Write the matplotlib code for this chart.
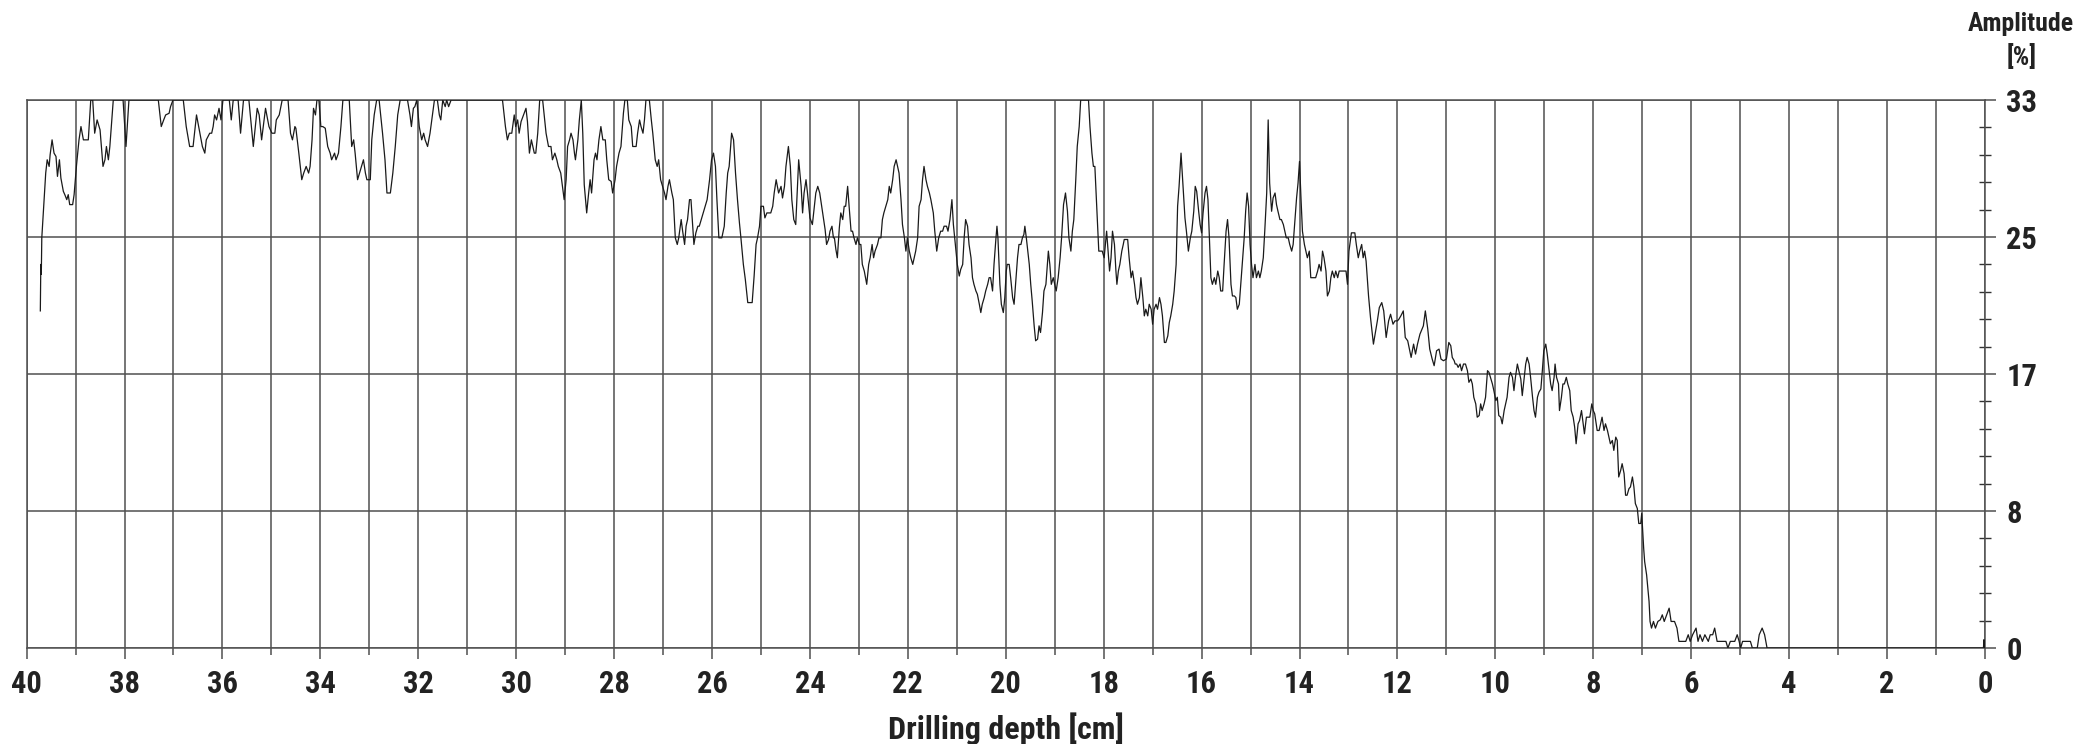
import numpy as np
import matplotlib
matplotlib.use("Agg")
import matplotlib.pyplot as plt
from matplotlib.ticker import FixedLocator, MultipleLocator

# drilling resistance trace: (depth [cm], amplitude [%])
trace_40_34 = [
    (39.72, 20.3), (39.71, 23.1), (39.70, 22.5), (39.69, 24.7), (39.61, 28.6), (39.58, 29.4),
    (39.54, 29.0), (39.52, 29.7), (39.48, 30.6), (39.44, 29.8), (39.40, 29.6), (39.37, 28.4),
    (39.33, 29.4), (39.30, 28.3), (39.25, 27.5), (39.22, 27.3), (39.18, 27.0), (39.15, 27.3),
    (39.12, 26.7), (39.06, 26.7), (39.03, 27.3), (38.98, 29.1), (38.93, 30.6), (38.89, 31.4),
    (38.84, 30.6), (38.74, 30.6), (38.69, 33.0), (38.65, 33.0), (38.61, 31.0), (38.56, 31.8),
    (38.50, 31.2), (38.44, 29.0), (38.40, 29.4), (38.37, 30.2), (38.33, 29.4), (38.30, 30.2),
    (38.23, 33.0), (38.03, 33.0), (37.97, 30.2), (37.91, 33.0), (37.31, 33.0), (37.25, 31.4),
    (37.20, 31.8), (37.16, 32.1), (37.09, 32.2), (37.06, 32.6), (37.01, 33.0), (36.80, 33.0),
    (36.74, 31.4), (36.67, 30.2), (36.60, 30.2), (36.53, 32.1), (36.46, 31.0), (36.41, 30.2),
    (36.36, 29.8), (36.33, 30.6), (36.26, 31.0), (36.22, 31.0), (36.19, 31.4), (36.16, 32.1),
    (36.12, 31.8), (36.07, 32.5), (36.03, 31.8), (35.99, 33.0), (35.86, 33.0), (35.82, 31.8),
    (35.78, 33.0), (35.68, 33.0), (35.63, 31.0), (35.57, 33.0), (35.46, 33.0), (35.37, 30.2),
    (35.29, 32.5), (35.25, 32.1), (35.20, 30.6), (35.12, 32.5), (35.05, 31.4), (34.99, 31.0),
    (34.93, 31.0), (34.90, 31.8), (34.84, 32.1), (34.78, 33.0), (34.66, 33.0), (34.61, 31.0),
    (34.57, 30.6), (34.52, 31.4),
]

trace_34_29 = [
    (34.50, 31.3), (34.44, 29.8), (34.38, 28.2), (34.34, 28.6), (34.29, 29.0), (34.24, 28.6),
    (34.21, 29.0), (34.17, 30.6), (34.14, 32.5), (34.10, 32.1), (34.07, 33.0), (34.03, 33.0),
    (33.99, 31.4), (33.95, 31.4), (33.90, 31.3), (33.85, 30.2), (33.80, 29.8), (33.77, 29.4),
    (33.71, 29.8), (33.68, 29.4), (33.63, 29.8), (33.58, 31.4), (33.54, 33.0), (33.41, 33.0),
    (33.36, 30.2), (33.32, 30.6), (33.29, 29.8), (33.24, 28.2), (33.19, 28.7), (33.16, 29.0),
    (33.12, 29.4), (33.08, 28.6), (33.05, 28.2), (32.98, 28.2), (32.95, 30.6), (32.90, 32.1),
    (32.85, 33.0), (32.80, 33.0), (32.73, 31.0), (32.68, 29.4), (32.64, 27.4), (32.57, 27.4),
    (32.52, 28.6), (32.47, 30.2), (32.42, 32.1), (32.37, 33.0), (32.22, 33.0), (32.17, 32.1),
    (32.14, 31.4), (32.10, 32.5), (32.07, 32.6), (32.03, 33.0), (31.98, 31.4), (31.93, 30.6),
    (31.89, 31.0), (31.86, 30.6), (31.81, 30.2), (31.76, 31.0), (31.71, 32.1), (31.67, 33.0),
    (31.61, 33.0), (31.57, 32.1), (31.54, 31.8), (31.50, 33.0), (31.45, 32.6), (31.42, 33.0),
    (31.38, 32.6), (31.33, 33.0), (30.28, 33.0), (30.22, 31.4), (30.18, 30.6), (30.14, 31.0),
    (30.09, 31.0), (30.04, 32.1), (30.01, 31.4), (29.97, 31.8), (29.94, 31.0), (29.90, 31.7),
    (29.85, 32.1), (29.80, 32.5), (29.77, 31.7), (29.73, 29.8), (29.69, 30.6), (29.63, 29.8),
    (29.60, 29.8), (29.56, 31.0), (29.52, 33.0), (29.46, 33.0), (29.39, 31.0), (29.34, 30.2),
    (29.29, 30.2), (29.26, 29.4), (29.21, 29.8), (29.17, 29.4), (29.14, 29.0), (29.09, 28.6),
    (29.06, 27.9), (29.02, 27.0),
]

trace_29_23 = [
    (28.98, 28.2), (28.95, 30.2), (28.91, 30.6), (28.88, 31.0), (28.84, 30.6), (28.81, 29.8),
    (28.79, 29.4), (28.74, 30.6), (28.71, 31.8), (28.67, 33.0), (28.64, 31.0), (28.61, 27.9),
    (28.56, 26.2), (28.52, 27.4), (28.49, 28.2), (28.46, 27.4), (28.41, 29.4), (28.38, 29.8),
    (28.35, 29.4), (28.31, 30.6), (28.27, 31.4), (28.23, 30.6), (28.18, 30.6), (28.15, 29.4),
    (28.11, 28.2), (28.06, 28.1), (28.03, 27.4), (27.98, 28.2), (27.95, 29.0), (27.90, 29.8),
    (27.86, 30.2), (27.81, 32.2), (27.78, 33.0), (27.73, 33.0), (27.70, 31.8), (27.65, 31.4),
    (27.62, 30.2), (27.55, 30.2), (27.52, 31.0), (27.48, 31.8), (27.45, 31.4), (27.41, 31.0),
    (27.38, 31.8), (27.35, 33.0), (27.28, 33.0), (27.24, 31.8), (27.21, 31.0), (27.16, 29.4),
    (27.12, 29.0), (27.09, 29.4), (27.05, 28.2), (27.01, 27.8), (26.97, 27.4), (26.94, 27.0),
    (26.90, 27.8), (26.87, 28.2), (26.82, 27.4), (26.79, 27.0), (26.75, 24.7), (26.71, 24.3),
    (26.68, 24.7), (26.63, 25.8), (26.60, 25.1), (26.56, 24.3), (26.53, 25.4), (26.50, 25.8),
    (26.46, 27.0), (26.43, 27.0), (26.37, 24.3), (26.33, 25.0), (26.29, 25.4), (26.26, 25.4),
    (26.22, 25.8), (26.18, 26.2), (26.14, 26.6), (26.10, 27.0), (26.05, 28.2), (26.01, 29.4),
    (25.97, 29.8), (25.93, 29.0), (25.90, 27.0), (25.86, 24.7), (25.80, 24.7), (25.75, 25.4),
    (25.71, 27.4), (25.68, 28.6), (25.65, 29.0), (25.60, 31.0), (25.56, 30.6), (25.52, 28.6),
    (25.48, 27.0), (25.44, 25.6), (25.41, 24.7), (25.36, 23.1), (25.32, 22.2), (25.27, 20.8),
    (25.18, 20.8), (25.14, 22.4), (25.10, 24.3), (25.07, 24.7), (25.03, 25.4), (25.00, 26.6),
    (24.95, 26.6), (24.92, 25.9), (24.88, 26.2), (24.80, 26.2), (24.76, 26.6), (24.73, 27.4),
    (24.69, 28.2), (24.64, 27.4), (24.59, 27.8), (24.56, 27.1), (24.52, 27.8), (24.49, 29.0),
    (24.44, 30.2), (24.40, 29.0), (24.37, 27.0), (24.33, 25.8), (24.29, 25.5), (24.25, 28.2),
    (24.23, 29.4), (24.18, 27.8), (24.15, 26.2), (24.12, 27.4), (24.08, 28.2), (24.05, 27.4),
    (24.00, 25.9), (23.95, 25.5), (23.91, 26.6), (23.88, 27.4), (23.84, 27.8), (23.80, 27.4),
    (23.74, 26.2), (23.69, 25.2), (23.66, 24.3), (23.62, 24.6), (23.59, 25.1), (23.55, 25.4),
    (23.52, 24.7),
]

trace_23_18 = [
    (23.50, 24.7), (23.47, 24.0), (23.44, 23.5), (23.40, 25.3), (23.37, 26.2), (23.33, 25.8),
    (23.30, 26.6), (23.27, 26.6), (23.23, 27.8), (23.20, 26.6), (23.16, 25.1), (23.13, 25.1),
    (23.10, 24.7), (23.06, 24.3), (23.03, 24.7), (22.99, 24.3), (22.96, 24.3), (22.93, 23.1),
    (22.89, 22.7), (22.84, 21.9), (22.80, 23.1), (22.77, 23.5), (22.73, 24.3), (22.70, 23.5),
    (22.67, 23.9), (22.62, 24.3), (22.59, 24.7), (22.55, 24.7), (22.52, 25.8), (22.49, 26.2),
    (22.45, 26.6), (22.41, 27.0), (22.38, 27.8), (22.35, 27.4), (22.31, 28.2), (22.28, 29.0),
    (22.24, 29.4), (22.21, 29.0), (22.18, 28.6), (22.14, 27.0), (22.11, 25.5), (22.07, 24.7),
    (22.04, 23.9), (22.01, 24.7), (21.97, 23.9), (21.94, 23.5), (21.90, 23.1), (21.87, 23.5),
    (21.84, 23.9), (21.80, 24.7), (21.77, 26.6), (21.73, 27.0), (21.70, 28.2), (21.67, 29.0),
    (21.63, 28.2), (21.60, 27.8), (21.56, 27.4), (21.53, 27.0), (21.48, 26.2), (21.45, 25.1),
    (21.41, 23.9), (21.37, 24.7), (21.33, 25.1), (21.29, 25.1), (21.26, 25.4), (21.21, 25.4),
    (21.18, 25.1), (21.14, 25.8), (21.10, 27.0), (21.07, 25.5), (21.03, 24.3), (20.99, 23.1),
    (20.95, 22.4), (20.92, 22.8), (20.88, 23.1), (20.85, 24.7), (20.82, 25.8), (20.78, 25.4),
    (20.75, 24.3), (20.71, 23.5), (20.68, 22.3), (20.65, 21.9), (20.61, 21.5), (20.58, 21.3),
    (20.54, 20.7), (20.51, 20.2), (20.48, 20.7), (20.44, 21.1), (20.41, 21.5), (20.37, 21.9),
    (20.34, 22.3), (20.31, 22.3), (20.27, 21.5), (20.24, 23.1), (20.20, 24.7), (20.18, 25.4),
    (20.16, 24.7), (20.12, 21.9), (20.09, 20.7), (20.05, 20.2), (20.02, 21.1), (19.99, 22.7),
    (19.97, 23.1), (19.93, 23.1), (19.90, 22.3), (19.86, 21.1), (19.83, 20.7), (19.80, 21.9),
    (19.76, 23.5), (19.73, 24.3), (19.69, 24.3), (19.66, 24.7), (19.63, 24.9), (19.61, 25.4),
    (19.58, 24.7), (19.52, 23.1), (19.49, 21.9), (19.46, 20.9), (19.42, 19.4), (19.39, 18.5),
    (19.35, 18.6), (19.32, 19.4), (19.29, 19.0), (19.25, 20.2), (19.22, 21.5), (19.18, 21.9),
    (19.15, 23.1), (19.13, 23.9), (19.10, 23.1), (19.07, 21.9), (19.03, 22.3), (19.00, 21.9),
    (18.97, 21.5), (18.93, 22.3), (18.89, 23.5), (18.86, 24.7), (18.82, 26.7), (18.78, 27.4),
    (18.74, 26.3), (18.71, 24.7), (18.67, 23.9), (18.64, 25.1), (18.61, 25.8), (18.57, 28.2),
    (18.54, 30.2), (18.50, 31.4), (18.47, 33.0), (18.31, 33.0), (18.28, 31.4), (18.24, 29.8),
    (18.21, 29.0), (18.18, 29.0), (18.13, 25.8), (18.10, 23.9), (18.03, 23.9), (17.99, 23.5),
]

trace_18_12 = [
    (17.94, 25.1), (17.90, 23.5), (17.88, 22.7), (17.85, 23.5), (17.82, 25.1), (17.78, 24.3),
    (17.75, 22.7), (17.73, 21.9), (17.70, 22.7), (17.67, 23.1), (17.63, 23.9), (17.60, 24.3),
    (17.58, 24.6), (17.51, 24.6), (17.48, 23.5), (17.44, 22.3), (17.41, 22.7), (17.37, 21.9),
    (17.34, 21.1), (17.31, 20.7), (17.27, 21.1), (17.24, 22.3), (17.20, 21.1), (17.17, 20.0),
    (17.14, 20.4), (17.10, 20.0), (17.07, 20.7), (17.03, 20.4), (17.00, 19.5), (16.97, 20.4),
    (16.93, 20.7), (16.90, 20.4), (16.86, 21.1), (16.83, 20.7), (16.80, 20.0), (16.76, 18.4),
    (16.73, 18.4), (16.69, 18.8), (16.66, 19.6), (16.63, 20.0), (16.59, 20.7), (16.56, 21.5),
    (16.52, 23.1), (16.49, 26.6), (16.46, 27.8), (16.42, 29.8), (16.37, 27.4), (16.34, 25.9),
    (16.31, 25.1), (16.27, 23.9), (16.23, 24.7), (16.20, 25.1), (16.16, 26.3), (16.13, 27.8),
    (16.10, 27.5), (16.06, 26.3), (16.03, 25.5), (16.00, 25.0), (15.97, 26.2), (15.93, 27.4),
    (15.90, 27.8), (15.87, 27.0), (15.84, 24.7), (15.81, 22.3), (15.78, 21.9), (15.74, 22.3),
    (15.71, 21.9), (15.67, 22.7), (15.64, 22.3), (15.61, 21.5), (15.57, 21.5), (15.54, 23.1),
    (15.50, 25.1), (15.47, 25.8), (15.44, 24.7), (15.40, 21.9), (15.37, 21.2), (15.33, 21.2),
    (15.30, 21.1), (15.27, 20.4), (15.23, 20.7), (15.20, 21.9), (15.16, 23.5), (15.13, 24.7),
    (15.10, 26.3), (15.07, 27.4), (15.04, 26.6), (15.01, 24.3), (14.98, 23.1), (14.95, 22.3),
    (14.91, 23.1), (14.88, 22.3), (14.84, 22.7), (14.81, 22.3), (14.78, 22.7), (14.74, 23.5),
    (14.71, 25.1), (14.67, 27.4), (14.64, 31.8), (14.61, 28.0), (14.57, 26.3), (14.54, 27.1),
    (14.50, 27.4), (14.47, 26.7), (14.44, 26.3), (14.40, 25.8), (14.37, 25.8), (14.33, 25.5),
    (14.30, 25.1), (14.27, 24.7), (14.23, 24.7), (14.20, 24.3), (14.16, 23.9), (14.13, 24.3),
    (14.10, 25.5), (14.06, 27.1), (14.03, 28.0), (14.00, 29.3), (13.97, 27.1), (13.94, 25.1),
    (13.90, 24.3), (13.87, 23.9), (13.84, 23.5), (13.80, 23.9), (13.77, 22.3), (13.73, 22.3),
    (13.67, 22.3), (13.63, 22.7), (13.60, 23.1), (13.56, 22.7), (13.53, 23.9), (13.50, 23.5),
    (13.46, 22.7), (13.43, 21.2), (13.39, 21.5), (13.36, 22.3), (13.33, 22.7), (13.29, 22.3),
    (13.26, 22.7), (13.22, 22.3), (13.19, 22.7), (13.05, 22.7), (13.02, 21.9), (12.99, 23.9),
    (12.94, 25.0), (12.87, 25.0), (12.84, 24.3), (12.80, 23.5), (12.77, 23.9), (12.73, 24.3),
    (12.70, 23.5), (12.67, 23.9), (12.64, 23.3), (12.59, 21.2), (12.55, 19.9), (12.49, 18.3),
    (12.41, 19.7), (12.37, 20.5), (12.32, 20.8), (12.28, 20.3), (12.23, 18.7), (12.18, 19.7),
    (12.14, 20.1), (12.09, 19.5), (12.05, 19.7),
]

trace_12_7 = [
    (12.00, 19.7), (11.97, 19.8), (11.93, 20.0), (11.88, 20.3), (11.84, 18.7), (11.79, 18.5),
    (11.72, 17.5), (11.67, 18.3), (11.63, 17.7), (11.59, 18.3), (11.54, 18.9), (11.47, 19.4),
    (11.43, 20.3), (11.38, 19.2), (11.34, 18.0), (11.29, 17.4), (11.25, 17.0), (11.20, 17.9),
    (11.15, 18.0), (11.11, 17.4), (11.06, 17.3), (11.00, 17.4), (10.95, 18.4), (10.91, 18.2),
    (10.88, 17.5), (10.84, 17.3), (10.82, 17.1), (10.79, 17.1), (10.76, 16.9), (10.72, 17.1),
    (10.69, 16.7), (10.65, 17.1), (10.61, 17.1), (10.57, 16.7), (10.54, 16.0), (10.50, 16.2),
    (10.47, 15.9), (10.44, 15.1), (10.40, 14.7), (10.37, 13.9), (10.33, 14.0), (10.30, 14.7),
    (10.27, 14.3), (10.23, 14.7), (10.20, 15.1), (10.16, 16.7), (10.13, 16.6), (10.10, 16.3),
    (10.06, 15.9), (10.03, 15.5), (9.99, 14.9), (9.96, 15.1), (9.93, 14.0), (9.89, 13.9),
    (9.86, 13.5), (9.82, 14.3), (9.79, 14.7), (9.76, 15.1), (9.72, 16.3), (9.69, 16.6),
    (9.65, 16.3), (9.62, 15.5), (9.59, 16.3), (9.55, 17.1), (9.52, 16.7), (9.48, 16.2),
    (9.45, 15.2), (9.41, 16.3), (9.38, 17.1), (9.35, 17.5), (9.31, 17.1), (9.28, 16.3),
    (9.24, 15.1), (9.21, 14.3), (9.18, 13.9), (9.14, 15.1), (9.11, 15.4), (9.07, 15.6),
    (9.04, 16.7), (9.01, 17.9), (8.97, 18.3), (8.94, 17.7), (8.90, 16.7), (8.87, 15.9),
    (8.84, 15.5), (8.80, 16.3), (8.78, 17.1), (8.75, 16.3), (8.71, 15.9), (8.69, 14.3),
    (8.65, 15.1), (8.62, 15.9), (8.59, 15.9), (8.55, 16.3), (8.52, 15.9), (8.48, 15.5),
    (8.45, 14.3), (8.41, 13.9), (8.38, 13.3), (8.35, 12.3), (8.31, 13.5), (8.28, 13.7),
    (8.24, 14.3), (8.21, 13.6), (8.18, 12.9), (8.14, 13.9), (8.11, 13.9), (8.07, 13.9),
    (8.03, 14.7), (8.00, 14.3), (7.97, 14.1), (7.92, 13.1), (7.88, 13.1), (7.85, 13.5),
    (7.82, 13.9), (7.78, 13.1), (7.75, 13.5), (7.71, 13.1), (7.68, 12.7), (7.65, 12.3),
    (7.61, 12.5), (7.58, 11.9), (7.54, 12.7), (7.51, 12.5), (7.48, 10.3), (7.44, 10.7),
    (7.41, 11.1), (7.37, 10.5), (7.34, 9.2), (7.31, 9.2), (7.27, 9.6), (7.24, 9.7),
    (7.20, 10.3), (7.17, 9.7), (7.14, 8.7), (7.10, 8.4), (7.07, 7.5), (7.03, 7.5),
    (7.01, 8.1), (6.99, 7.0), (6.97, 6.0),
]

trace_7_0 = [
    (6.95, 5.2), (6.91, 4.4), (6.86, 2.8), (6.84, 1.6), (6.81, 1.2), (6.77, 1.6), (6.73, 1.2),
    (6.68, 1.6), (6.63, 1.7), (6.59, 2.0), (6.55, 1.6), (6.50, 2.0), (6.45, 2.4), (6.41, 1.6),
    (6.34, 1.6), (6.29, 1.2), (6.25, 0.4), (6.11, 0.4), (6.06, 0.8), (6.02, 0.4), (5.97, 0.8),
    (5.90, 1.2), (5.86, 0.4), (5.82, 0.8), (5.77, 0.4), (5.72, 0.8), (5.65, 0.4), (5.61, 0.8),
    (5.56, 0.8), (5.52, 1.2), (5.47, 0.4), (5.29, 0.4), (5.25, 0.0), (5.20, 0.4), (5.11, 0.4),
    (5.06, 0.8), (5.02, 0.4), (4.99, 0.0), (4.95, 0.4), (4.79, 0.4), (4.75, 0.0), (4.65, 0.0),
    (4.61, 0.8), (4.55, 1.2), (4.50, 0.8), (4.45, 0.0), (0.03, 0.0), (0.02, 0.5), (0.01, 0.0),
]

y_ticks = [0, 8.25, 16.5, 24.75, 33]
y_tick_labels = ["0", "8", "17", "25", "33"]
x_ticks = list(range(40, -1, -2))

plt.rcParams["font.family"] = ["Roboto Condensed", "Liberation Sans", "DejaVu Sans"]
plt.rcParams["font.weight"] = "bold"
TXT = "#222222"
GRID = "#505050"

trace = np.array(trace_40_34 + trace_34_29 + trace_29_23 + trace_23_18
                 + trace_18_12 + trace_12_7 + trace_7_0)

fig = plt.figure(figsize=(20.96, 7.44), dpi=100)
ax = fig.add_axes([0.0127, 0.129, 0.9343, 0.7366])

ax.plot(trace[:, 0], trace[:, 1], color="#1a1a1a", lw=0.9, zorder=3)

ax.set_xlim(40, 0)
ax.set_ylim(0, 33)

ax.xaxis.set_major_locator(FixedLocator(x_ticks))
ax.xaxis.set_minor_locator(MultipleLocator(1))
ax.yaxis.set_major_locator(FixedLocator(y_ticks))
ax.set_yticklabels(y_tick_labels)
minor_y = [v for v in np.arange(0, 33.01, 1.65) if min(abs(v - t) for t in y_ticks) > 0.1]
ax.yaxis.set_minor_locator(FixedLocator(minor_y))

ax.grid(which="major", axis="both", color=GRID, lw=1.1, zorder=1)
ax.grid(which="minor", axis="x", color=GRID, lw=1.1, zorder=1)

ax.yaxis.tick_right()
ax.tick_params(axis="x", which="major", direction="out", length=8, width=1.1,
               color=GRID, labelsize=22, labelcolor=TXT, pad=7)
ax.tick_params(axis="x", which="minor", direction="out", length=5, width=1.1, color=GRID)
ax.tick_params(axis="y", which="major", direction="out", length=8, width=1.1,
               color=GRID, labelsize=22, labelcolor=TXT, pad=7.5, right=True, left=False)
ax.tick_params(axis="y", which="minor", direction="inout", length=9, width=1.0,
               color="#333333", right=True, left=False)

for side in ax.spines:
    ax.spines[side].set_color(GRID)
    ax.spines[side].set_linewidth(1.1)

fig.text(0.4799, 0.0205, "Drilling depth [cm]", ha="center", va="center",
         fontsize=23, fontweight="bold", color=TXT)
fig.text(0.9643, 0.968, "Amplitude", ha="center", va="center",
         fontsize=18.5, fontweight="bold", color=TXT)
fig.text(0.9643, 0.924, "[%]", ha="center", va="center",
         fontsize=18.5, fontweight="bold", color=TXT)

fig.savefig("out.png", dpi=100)
